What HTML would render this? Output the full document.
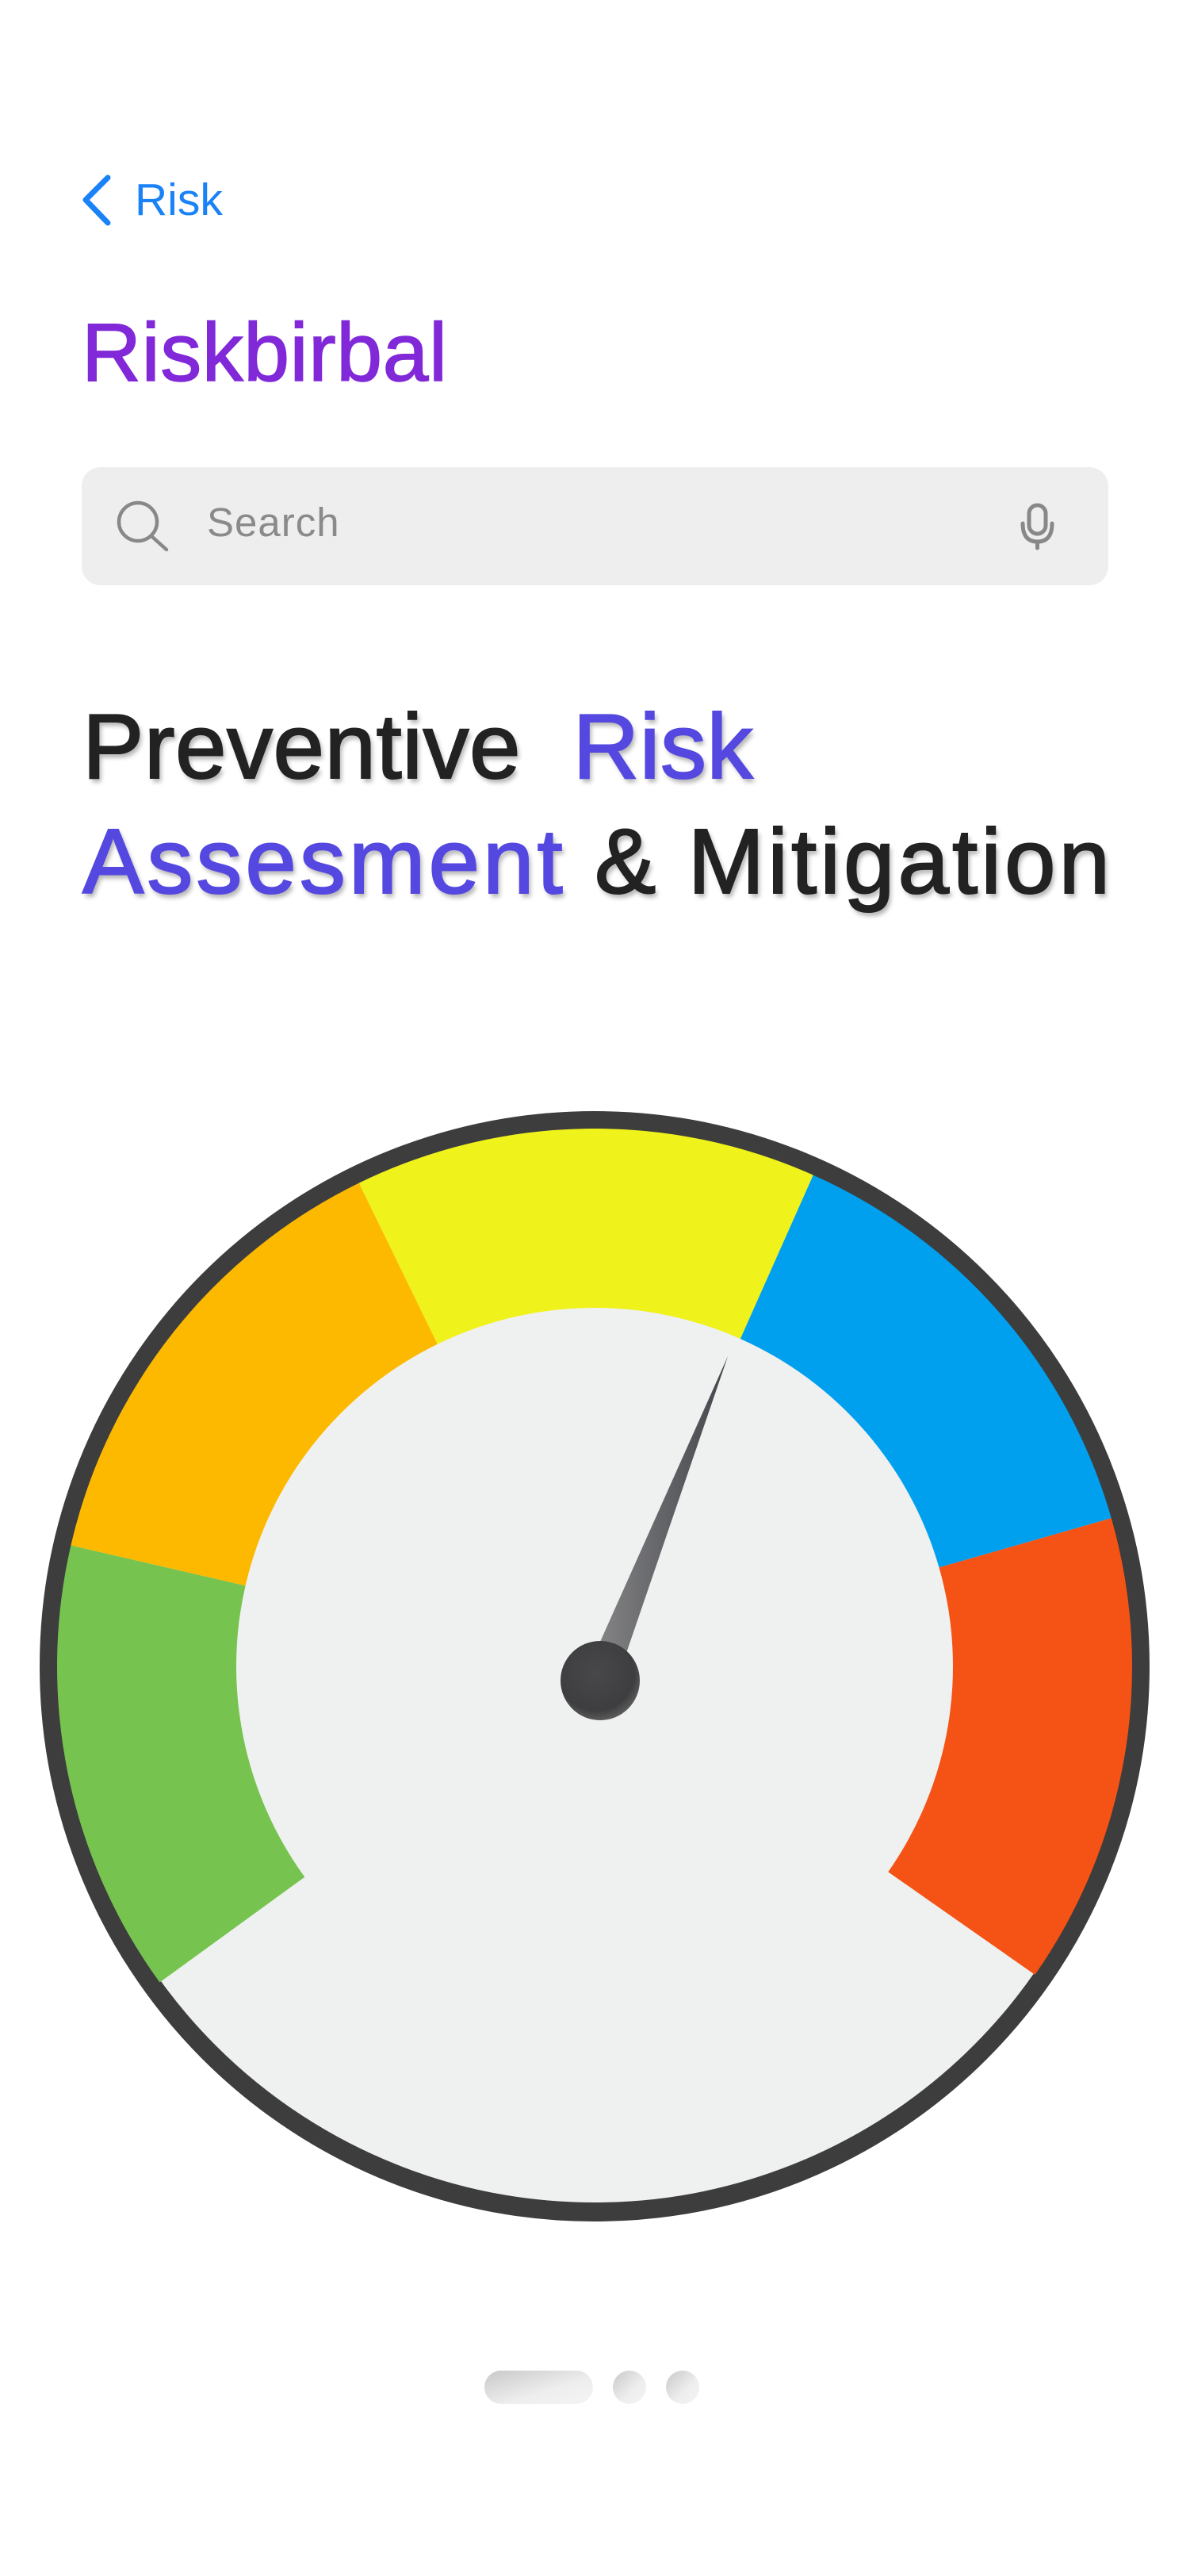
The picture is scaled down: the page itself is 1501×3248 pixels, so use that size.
<!DOCTYPE html>
<html><head><meta charset="utf-8">
<style>
html,body{margin:0;padding:0;background:#fff;}
body{width:1501px;height:3248px;position:relative;overflow:hidden;font-family:"Liberation Sans",sans-serif;}
.t{position:absolute;white-space:nowrap;margin:0;}
</style></head>
<body>
<svg style="position:absolute;left:0;top:0" width="200" height="320">
<polyline points="136,224 108,252 136,281" fill="none" stroke="#1a82f7" stroke-width="7" stroke-linecap="round" stroke-linejoin="round"/>
</svg>
<div class="t" style="left:170px;top:218px;font-size:57px;color:#1a82f7;line-height:68px;">Risk</div>
<div class="t" style="left:103px;top:387px;font-size:104px;color:#8128d8;line-height:116px;letter-spacing:0.5px;-webkit-text-stroke:1.5px #8128d8;">Riskbirbal</div>

<div style="position:absolute;left:103px;top:589px;width:1295px;height:149px;background:#eeeeee;border-radius:24px;"></div>
<svg style="position:absolute;left:0;top:580px" width="260" height="160">
<circle cx="174" cy="78" r="24" fill="none" stroke="#888" stroke-width="4.5"/>
<line x1="191" y1="96" x2="210" y2="113" stroke="#888" stroke-width="4.5" stroke-linecap="round"/>
</svg>
<div class="t" style="left:261px;top:629px;font-size:51px;color:#8a8a8a;line-height:60px;letter-spacing:1px;">Search</div>
<svg style="position:absolute;left:1270px;top:620px" width="80" height="90">
<rect x="28" y="17" width="21" height="36" rx="10.5" fill="none" stroke="#888" stroke-width="5"/>
<path d="M20 40 Q20 63 38.5 63 Q57 63 57 40" fill="none" stroke="#888" stroke-width="5" stroke-linecap="round"/>
<line x1="38.5" y1="63" x2="38.5" y2="71" stroke="#888" stroke-width="5" stroke-linecap="round"/>
</svg>

<div class="t" style="left:104px;top:876px;font-size:116px;line-height:130px;color:#222;-webkit-text-stroke:2px #222;letter-spacing:0.5px;text-shadow:3px 5px 6px rgba(0,0,0,0.3);">Preventive&nbsp; <span style="color:#5548e0;-webkit-text-stroke:2px #5548e0;">Risk</span></div>
<div class="t" style="left:104px;top:1021px;font-size:116px;line-height:130px;color:#222;-webkit-text-stroke:2px #222;letter-spacing:4px;text-shadow:3px 5px 6px rgba(0,0,0,0.3);"><span style="color:#5548e0;-webkit-text-stroke:2px #5548e0;">Assesment</span> &amp; Mitigation</div>

<svg id="gauge" style="position:absolute;left:0;top:0" width="1501" height="3248">
<defs>
<radialGradient id="hubg" cx="0.45" cy="0.4" r="0.6"><stop offset="0" stop-color="#48484a"/><stop offset="0.8" stop-color="#3e3e40"/><stop offset="1" stop-color="#5a5a5a"/></radialGradient>
<linearGradient id="needleg" x1="0" y1="0" x2="1" y2="0"><stop offset="0" stop-color="#8a8a8c"/><stop offset="1" stop-color="#44454a"/></linearGradient>
<linearGradient id="dotg" x1="0" y1="0" x2="1" y2="1"><stop offset="0" stop-color="#c8c8c8"/><stop offset="0.6" stop-color="#eeeeee"/><stop offset="1" stop-color="#f4f4f4"/></linearGradient>
</defs>
<circle cx="750" cy="2101" r="688" fill="#eff1f0" stroke="#3d3d3d" stroke-width="24"/>
<g id="segs"></g>
<g id="needle"></g>
<g>
<rect x="611" y="2989" width="137" height="42" rx="21" fill="url(#dotg)"/>
<circle cx="794" cy="3010" r="21" fill="url(#dotg)"/>
<circle cx="861" cy="3010" r="21" fill="url(#dotg)"/>
</g>
</svg>
<script>
const categories=['low','moderate','medium','high','critical'];
const segStart=[-126,-77,-26,24,74];
const segEnd=[-77,-26,24,74,125];
const segColors=['#76c44f','#fdb900','#eff21b','#00a0ee','#f55316'];
const needleValue=[21.5];
const CX=750,CY=2101,R0=452,R1=678;
const NS='http://www.w3.org/2000/svg';
function pt(a,r,cx,cy){const t=a*Math.PI/180;return [(cx||CX)+r*Math.sin(t),(cy||CY)-r*Math.cos(t)];}
const segs=document.getElementById('segs');
categories.forEach((c,i)=>{
 const a0=segStart[i],a1=segEnd[i];
 const p1=pt(a0,R1),p2=pt(a1,R1),p3=pt(a1,R0),p4=pt(a0,R0);
 const large=(a1-a0)>180?1:0;
 const p=document.createElementNS(NS,'path');
 p.setAttribute('d',`M${p1} A${R1} ${R1} 0 ${large} 1 ${p2} L${p3} A${R0} ${R0} 0 ${large} 0 ${p4} Z`);
 p.setAttribute('fill',segColors[i]);
 
 
 segs.appendChild(p);
});
const HX=757,HY=2119;
const nd=document.getElementById('needle');
const a=needleValue[0];
const tip=pt(a,440,HX,HY),b1=pt(a-90,20,HX,HY),b2=pt(a+90,20,HX,HY);
const n=document.createElementNS(NS,'polygon');
n.setAttribute('points',`${tip} ${b1} ${b2}`);
n.setAttribute('fill','url(#needleg)');


nd.appendChild(n);
const h=document.createElementNS(NS,'circle');
h.setAttribute('cx',HX);h.setAttribute('cy',HY);h.setAttribute('r',50);
h.setAttribute('fill','url(#hubg)');


nd.appendChild(h);
</script>
</body></html>
